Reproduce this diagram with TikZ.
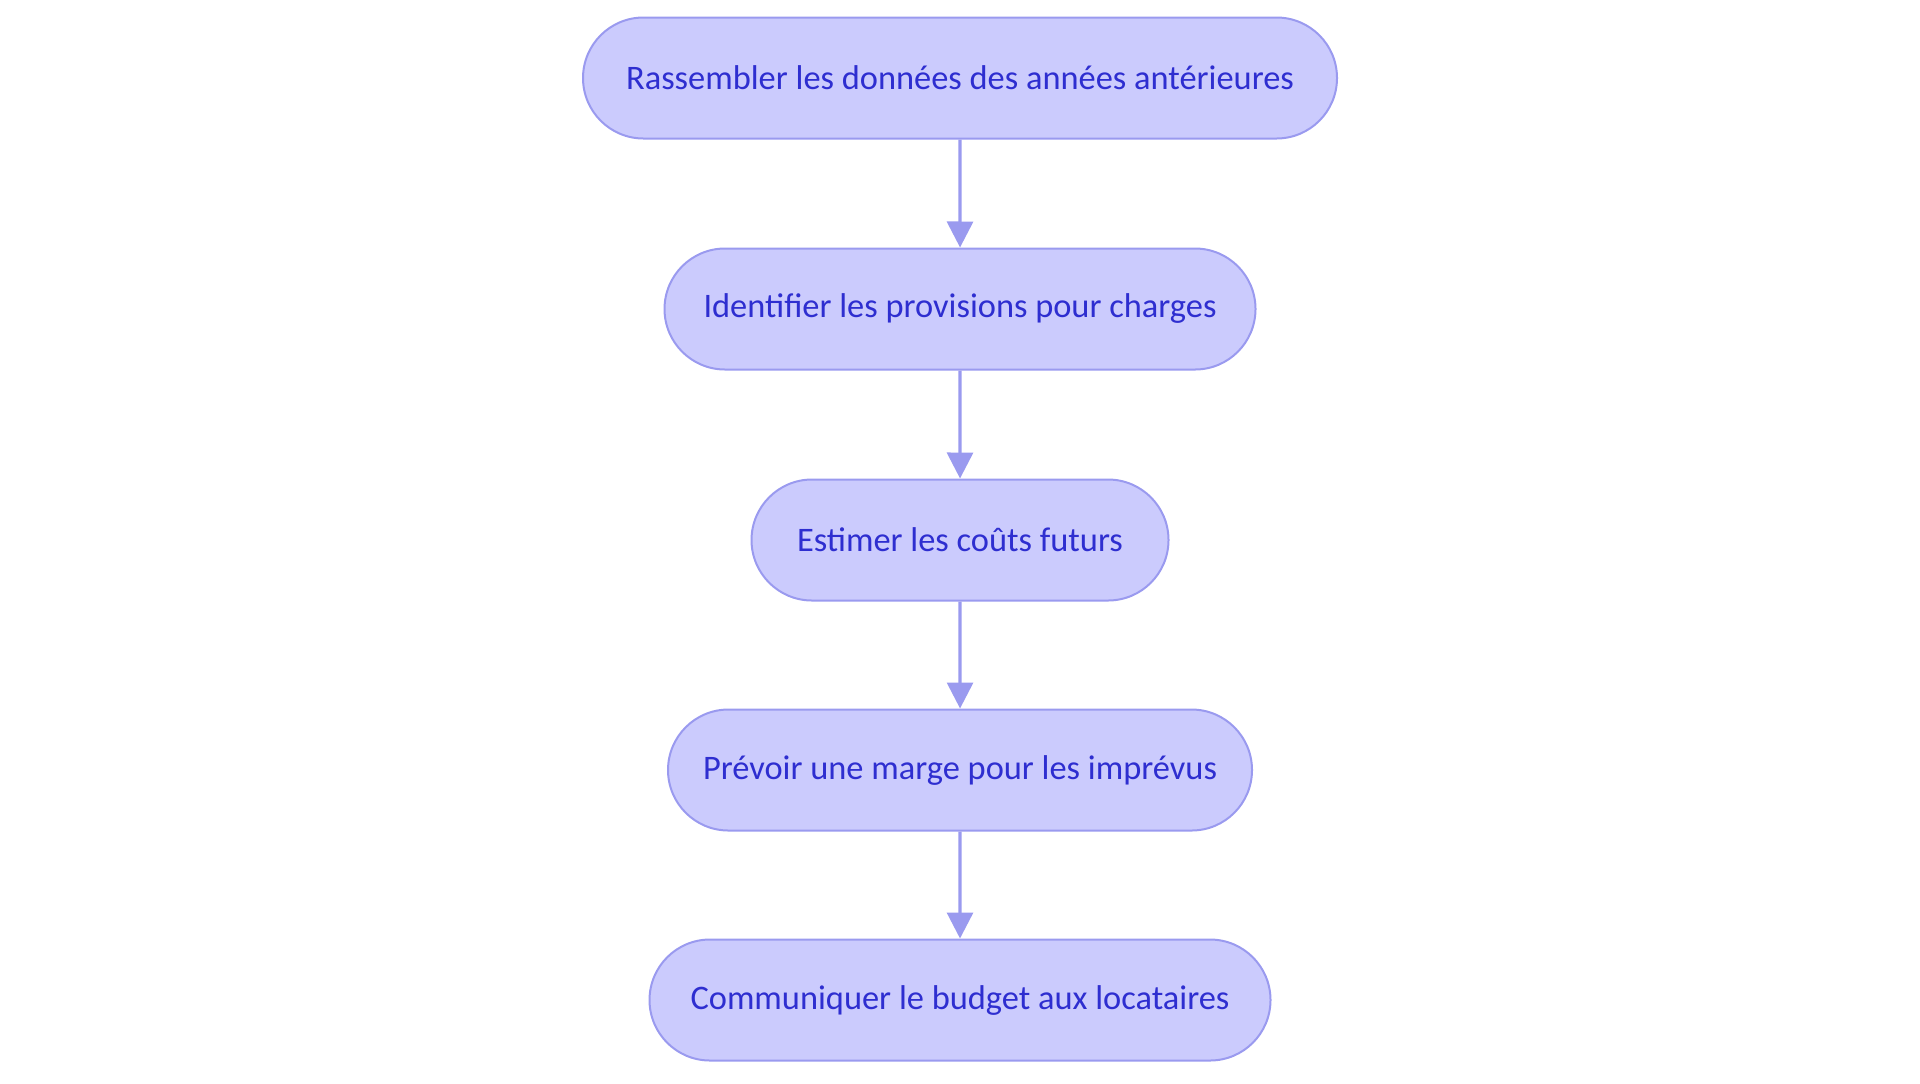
\documentclass[tikz,border=0pt]{standalone}
\usepackage{fontspec}
\setmainfont{Carlito}
\usetikzlibrary{shapes.misc,arrows.meta}
\definecolor{fillc}{HTML}{CBCBFD}
\definecolor{linec}{HTML}{9A9AEF}
\definecolor{textc}{HTML}{2E2ED0}
\begin{document}
\begin{tikzpicture}[x=0.5pt,y=-0.5pt,
  box/.style={rounded rectangle, draw=linec, line width=1pt, fill=fillc, text=textc,
    minimum height=60.5pt, inner xsep=0pt, font=\fontsize{17.2}{20}\selectfont},
  arr/.style={draw=linec, line width=1.6pt, -{Triangle[length=13pt,width=13pt]}}]
\useasboundingbox (0,0) rectangle (1920,1083);
\node[box, minimum width=377pt] (a) at (960,78) {Rassembler les données des années antérieures};
\node[box, minimum width=295.5pt] (b) at (960,309) {Identifier les provisions pour charges};
\node[box, minimum width=208.5pt] (c) at (960,540) {Estimer les coûts futurs};
\node[box, minimum width=292pt] (d) at (960,770) {Prévoir une marge pour les imprévus};
\node[box, minimum width=310.5pt] (e) at (960,1000) {Communiquer le budget aux locataires};
\draw[arr] (a) -- (b);
\draw[arr] (b) -- (c);
\draw[arr] (c) -- (d);
\draw[arr] (d) -- (e);
\end{tikzpicture}
\end{document}
